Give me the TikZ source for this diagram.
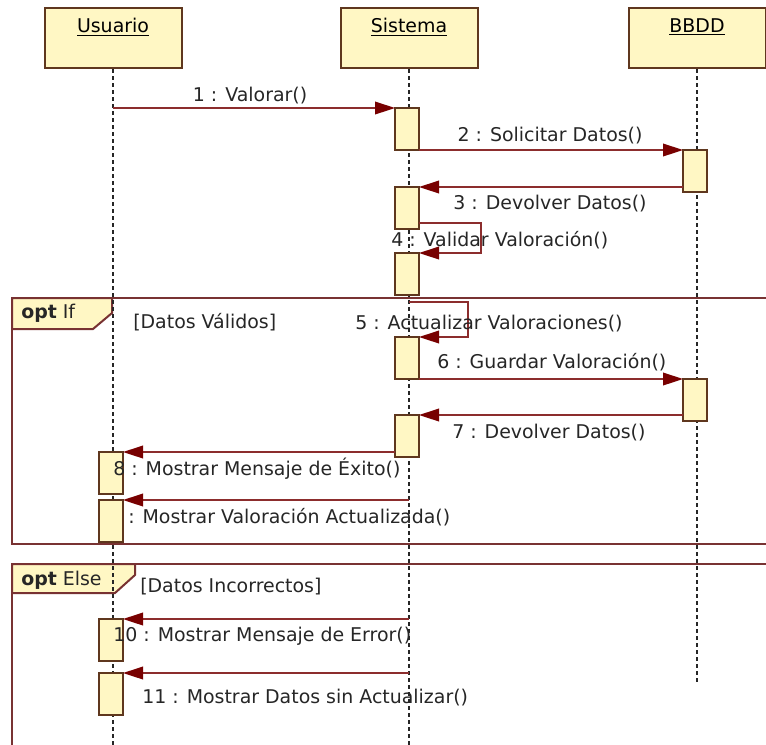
\documentclass[tikz,border=0pt]{standalone}
\usepackage{fontspec}
\setmainfont{DejaVu Sans}
\usetikzlibrary{arrows.meta, positioning, calc}

\definecolor{boxfill}{RGB}{255,247,196}
\definecolor{boxline}{RGB}{95,55,30}
\definecolor{msgline}{RGB}{140,45,45}
\definecolor{msghead}{RGB}{120,0,0}
\definecolor{frameline}{RGB}{120,50,50}

\begin{document}
\begin{tikzpicture}[x=0.75pt, y=-0.75pt,
    head/.style={rectangle, draw=boxline, fill=boxfill, line width=1.5pt, minimum width=102.75pt, minimum height=45pt, inner sep=0pt},
    headtxt/.style={anchor=north, font=\fontsize{14.2}{17}\selectfont, yshift=-5pt},
    act/.style={rectangle, draw=boxline, fill=boxfill, line width=1.3pt, minimum width=18pt, minimum height=31.5pt, inner sep=0pt, outer sep=0pt, anchor=north},
    life/.style={dash pattern=on 3pt off 2.25pt, line width=1.5pt, draw=black!85},
    msg/.style={-{Triangle[length=15pt, width=9.5pt, color=msghead]}, draw=msgline, line width=1.1pt},
    lbl/.style={font=\fontsize{14.2}{17}\selectfont, inner sep=0pt, text=black!85},
    frame/.style={draw=frameline, line width=1.5pt},
    tab/.style={draw=frameline, fill=boxfill, line width=1.5pt}
]
    \useasboundingbox (0,0) rectangle (766,744);
    \clip (0,0) rectangle (766,744);

    % combined fragments
    \draw[frame] (790,298) -- (12,298) -- (12,544) -- (790,544);
    \filldraw[tab] (12,298) -- (112,298) -- (112,313) -- (93,329) -- (12,329) -- cycle;
    \node[lbl, anchor=west] (opt1) at (21,313) {\textbf{opt} If};
    \draw[frame] (790,564) -- (12,564) -- (12,760);
    \filldraw[tab] (12,564) -- (135,564) -- (135,575) -- (115,593) -- (12,593) -- cycle;
    \node[lbl, anchor=west] (opt2) at (21,580) {\textbf{opt} Else};

    % objects
    \node[head, label={[headtxt]north:\underline{Usuario}}] (usr) at (113,38) {};
    \node[head, label={[headtxt]north:\underline{Sistema}}] (sis) at (409,38) {};
    \node[head, label={[headtxt]north:\underline{BBDD}}] (bd) at (697,38) {};

    % lifelines
    \draw[life] (usr.south) -- ++(0,690);
    \draw[life] (sis.south) -- ++(0,690);
    \draw[life] (bd.south) -- ++(0,615);

    % activations
    \node[act] (s1) at (407,108) {};
    \node[act] (b1) at (695,150) {};
    \node[act] (s2) at (407,187) {};
    \node[act] (s3) at (407,253) {};
    \node[act] (s4) at (407,337) {};
    \node[act] (b2) at (695,379) {};
    \node[act] (s5) at (407,415) {};
    \node[act] (u1) at (111,452) {};
    \node[act] (u2) at (111,500) {};
    \node[act] (u3) at (111,619) {};
    \node[act] (u4) at (111,673) {};

    % messages
    \coordinate (m1) at (113,108);
    \coordinate (m5) at (409,302);
    \coordinate (m9) at (409,500);
    \coordinate (m10) at (409,619);
    \coordinate (m11) at (409,673);
    \draw[msg] (m1) -- (s1.north west);
    \draw[msg] (s1.south east) -- (b1.north west);
    \draw[msg] (b1.west |- s2.north) -- (s2.north east);
    \draw[msg] ([yshift=4.5pt]s2.south east) -- ++(62,0) |- (s3.north east);
    \draw[msg] (m5) -- ++(59,0) |- (s4.north east);
    \draw[msg] (s4.south east) -- (b2.north west);
    \draw[msg] (b2.west |- s5.north) -- (s5.north east);
    \draw[msg] (s5.west |- u1.north) -- (u1.north east);
    \draw[msg] (m9) -- (u2.north east);
    \draw[msg] (m10) -- (u3.north east);
    \draw[msg] (m11) -- (u4.north east);

    % labels
    \node[lbl] (l1) at (250,96) {1 : Valorar()};
    \node[lbl] (l2) at (550,136) {2 : Solicitar Datos()};
    \node[lbl] (l3) at (550,204) {3 : Devolver Datos()};
    \node[lbl, anchor=west] (l4) at (391,240) {4 : Validar Valoración()};
    \node[lbl, anchor=west] (g1) at (133,322) {[Datos Válidos]};
    \node[lbl, anchor=west] (l5) at (355,324) {5 : Actualizar Valoraciones()};
    \node[lbl, anchor=west] (l6) at (437,362) {6 : Guardar Valoración()};
    \node[lbl, anchor=west] (l7) at (452,433) {7 : Devolver Datos()};
    \node[lbl, anchor=west] (l8) at (113,469) {8 : Mostrar Mensaje de Éxito()};
    \node[lbl, anchor=west] (l9) at (128,517) {: Mostrar Valoración Actualizada()};
    \node[lbl, anchor=west] (g2) at (140,587) {[Datos Incorrectos]};
    \node[lbl, anchor=west] (l10) at (113,636) {10 : Mostrar Mensaje de Error()};
    \node[lbl, anchor=west] (l11) at (142,698) {11 : Mostrar Datos sin Actualizar()};
\end{tikzpicture}
\end{document}
